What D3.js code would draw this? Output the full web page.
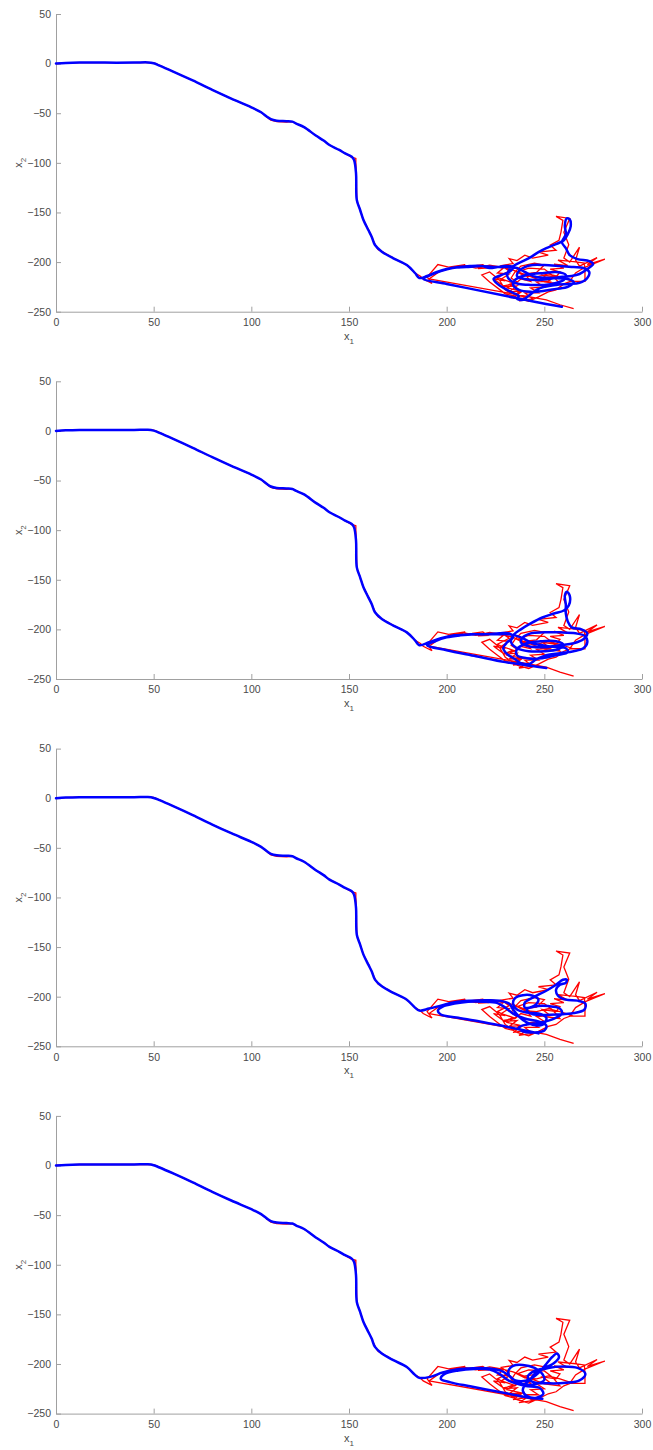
<!DOCTYPE html>
<html><head><meta charset="utf-8">
<script src="https://cdn.jsdelivr.net/npm/d3@7"></script>
<style>body{margin:0;background:#fff}svg{display:block}text{font-family:"Liberation Sans",Arial,sans-serif}</style>
</head><body>
<script>
// ---- data ----
const xTicks = [0, 50, 100, 150, 200, 250, 300];
const yTicks = [-250, -200, -150, -100, -50, 0, 50];

const redApproach = [[0,0],[5,0.6],[12,1],[25,1],[40,1],[47,1.2],[50,0.8],[52,-0.8],[60,-8],[70,-17],[80,-26.5],[90,-35.5],[100,-44],[105,-49],[108,-54],[110,-57],[113,-58.5],[118,-59],[121,-58.5],[123,-60.5],[127,-64],[133,-72.5],[137,-77.5],[140,-82],[145,-87],[148,-90.5],[151,-94],[153.5,-95.5],[153.5,-100],[153.7,-111],[154,-138],[155.7,-147.5],[157.4,-157.5],[160,-167.5],[161.6,-174.5],[163.5,-183],[165,-187.5],[167,-189.5],[172.7,-196],[179.6,-203],[183.8,-211],[186.4,-214]];

const redCluster = [[188,-217],[192.5,-221.5],[190,-215],[195.5,-202.5],[201,-205],[209.5,-202.5],[206,-205.5],[213,-204],[218.5,-202.5],[221,-206],[216,-206.5],[225,-204.5],[229,-206],[226,-211],[232,-212],[228,-217],[234,-221],[229,-225],[236,-224],[232,-230],[239,-229],[234,-236],[241,-234],[237,-239],[244,-237],[240,-231],[247,-231],[243,-226],[250,-225],[246,-220],[253,-219],[249,-213],[256,-215],[258,-210],[253,-207],[260,-206],[255,-202],[262,-203.5],[257,-198],[265,-199.5],[270.5,-201],[270.8,-210],[270.8,-219.5],[263,-219.5],[266,-211],[271,-205],[281,-197],[272,-202.5],[277,-195.5],[268,-204],[266,-198],[268,-185],[263,-200],[260,-196],[262.5,-182.5],[260,-170],[263,-156],[256,-154],[259.5,-158],[258.5,-170],[257.5,-178],[253,-183],[256,-188],[247,-190],[252,-193],[244,-196],[240,-193],[236,-198.5],[232,-196.5],[234,-201.5],[228,-203.5],[232,-209],[226,-215],[230,-219],[224,-217],[229,-224],[235,-222],[238,-217],[243,-219.5],[240,-212],[246,-210.5],[250,-203],[245,-201],[238,-204],[235,-210],[233,-216],[236,-220],[231,-226],[238,-229],[234,-234],[230,-232],[226,-226],[222,-220],[218,-213],[222,-210],[227,-218],[230,-228],[236,-236],[242,-239.5],[247,-235],[252,-230],[256,-228],[260,-222],[264,-219],[258,-215],[252,-212],[246,-215],[240,-214],[236,-210],[242,-206],[250,-207],[254,-213],[258,-222],[250,-220],[242,-214],[234,-208],[228,-205],[222,-203],[215,-206],[208,-203],[202,-206],[196,-210],[191,-217],[251,-238],[258,-243],[265,-247]];

const blueApproach = [[0,0],[5,0.6],[12,1],[25,1],[40,1],[47,1.2],[50,0.3],[53,-2],[60,-8],[70,-17],[80,-26.5],[90,-35.5],[100,-44],[105,-49],[108,-53.5],[110,-56],[113,-57.5],[118,-58],[121,-58.5],[123,-60.5],[127,-64],[133,-72.5],[137,-77.5],[140,-82],[145,-87],[148,-90.4],[151.4,-93.8],[152.6,-97.2],[153.6,-110.6],[154,-137.5],[155.7,-147.5],[157.4,-157.6],[159.9,-167.7],[161.6,-174.4],[163.3,-182.8],[166.8,-189.5],[172.7,-196.2],[179.6,-203],[183.8,-211]];

const blueCluster1 = [[186,-216],[190,-214],[195,-210],[200,-207],[206,-205],[212,-204],[218,-204],[222,-206],[226,-205],[230,-204],[234,-205],[232,-210],[228,-213],[224,-217],[226,-222],[230,-227],[234,-231],[237,-234],[236,-237],[239,-238],[242,-234],[246,-228],[250,-225],[256,-223],[262,-222],[268,-221],[272,-216],[273,-210],[270,-206],[265,-205],[258,-204],[250,-203],[244,-203],[240,-205],[237,-209],[236,-214],[240,-217],[246,-218],[252,-217],[258,-215],[264,-214],[268,-212],[272,-207],[275,-202],[273,-199],[267,-197],[263,-193],[261,-186],[259,-180],[261,-172],[260.5,-163],[261.5,-156],[263,-157],[263.5,-164],[262,-172],[260,-178],[256,-182],[251,-186],[247,-190],[243,-195],[239,-199],[235,-203],[232,-208],[231,-214],[233,-219],[237,-222],[243,-223],[250,-223],[256,-221],[260,-218],[261,-213],[256,-210],[250,-211],[244,-212],[239,-214],[235,-218],[234,-223],[237,-228],[243,-230],[250,-229],[256,-227],[262,-225],[265,-220],[262,-217],[254,-216],[246,-215],[240,-210],[236,-206],[230,-205],[224,-205],[218,-204],[210,-205],[203,-206],[197,-209],[192,-213],[188,-217],[200,-222],[215,-228],[230,-234],[245,-240],[259,-245]];

const blueCluster2 = [[186,-216],[191,-213],[197,-209],[204,-206],[212,-205],[220,-205],[227,-204],[232,-204],[234,-208],[231,-213],[229,-219],[231,-225],[235,-230],[238,-234],[242,-235],[246,-230],[251,-226],[258,-224],[265,-222],[270,-219],[272,-213],[271,-207],[266,-204],[258,-203],[250,-203],[243,-204],[239,-208],[238,-213],[242,-217],[250,-218],[258,-216],[265,-214],[270,-210],[272,-204],[269,-200],[264,-198],[262,-192],[261,-184],[261,-175],[260.5,-166],[261.5,-162],[263,-166],[262.5,-176],[260,-181],[255,-184],[249,-188],[243,-194],[238,-200],[234,-206],[233,-213],[236,-219],[242,-222],[250,-222],[257,-220],[260,-216],[256,-212],[248,-212],[241,-214],[236,-220],[236,-226],[241,-229],[249,-229],[256,-226],[262,-223],[261,-219],[252,-217],[244,-214],[238,-208],[232,-205],[224,-205],[215,-205],[207,-206],[200,-208],[194,-212],[190,-216],[200,-221],[215,-227],[230,-233],[244,-237],[251,-239]];

const blueCluster3 = [[186,-214],[191,-212],[197,-209],[204,-205.5],[212,-204],[220,-203.5],[227,-204],[232,-207],[234,-213],[237,-220],[241,-226],[246,-229],[250,-227],[251,-221],[247,-217],[241,-216],[236,-213],[234,-207],[235,-201.5],[239,-198.5],[244,-199],[247,-203],[245,-209],[240,-211],[240,-206],[245,-200],[251,-194],[256,-188],[259.5,-183],[261.5,-183],[261,-186],[258,-188],[256,-193],[257,-199],[261,-203],[267,-204],[271,-207],[270.5,-213],[265,-216.5],[257,-218],[249,-218.5],[243,-217],[241,-213],[245,-210],[252,-209.5],[258,-212],[259,-217],[255,-222],[248,-226],[241,-228],[237,-231],[239,-235],[245,-236],[250,-234],[251,-229],[247,-225],[240,-222],[234,-217],[230,-211],[226,-206.5],[219,-205],[211,-205],[204,-207],[198,-210],[195.5,-214],[197,-218],[205,-221],[217,-225],[230,-230],[240,-234],[247,-237]];

const blueCluster4 = [[186,-214],[191.5,-213],[198,-208.5],[205,-205.5],[213.5,-204.3],[222,-204.5],[228,-207],[232,-212],[236,-218],[241,-221],[246,-220],[250,-216],[249,-210],[245,-204],[239,-201],[234,-202],[231.5,-208],[233,-214],[238,-217.5],[243,-215],[247,-209],[251,-200],[254,-193],[256.5,-189.5],[257.5,-193],[255,-199],[250,-204],[244,-208],[241.5,-213],[244,-218],[252,-219.5],[261,-219],[268,-216.5],[271,-210],[267,-204],[260,-202.5],[252,-204],[246,-208],[243,-215],[240,-221],[239,-227],[241,-232],[246,-234],[249.5,-230],[247.5,-224],[240,-222],[232,-217],[227,-210],[222,-205.5],[214,-205],[206,-206.5],[199,-210],[197,-215],[202,-218.5],[212,-222.5],[225,-227.5],[237,-232],[244,-234.5],[249,-235]];

const blueClusters = [blueCluster1, blueCluster2, blueCluster3, blueCluster4];

// ---- layout ----
const W = 653, H = 1450;
const left = 56, right = 642, panelTop0 = 14, panelStep = 367.3, panelH = 297.7;
const axisColor = "#a0a0a0", textColor = "#4a4a4a";

const svg = d3.select("body").append("svg").attr("width", W).attr("height", H)
  .style("background", "#fff");

const x = d3.scaleLinear().domain([0, 300]).range([left, right]);
const y = d3.scaleLinear().domain([-250, 50]).range([panelH, 0]);

const redLine = d3.line().x(d => x(d[0])).y(d => y(d[1]));
const blueLine = d3.line().x(d => x(d[0])).y(d => y(d[1])).curve(d3.curveCatmullRom.alpha(0.5));

const redData = redApproach.concat(redCluster);

blueClusters.forEach((bc, i) => {
  const g = svg.append("g").attr("transform", `translate(0,${panelTop0 + i * panelStep})`);

  const xa = g.append("g").attr("transform", `translate(0,${panelH})`)
    .call(d3.axisBottom(x).tickValues(xTicks).tickSizeInner(-5).tickSizeOuter(0).tickPadding(7));
  const ya = g.append("g").attr("transform", `translate(${left},0)`)
    .call(d3.axisLeft(y).tickValues(yTicks).tickSizeInner(-5).tickSizeOuter(0).tickPadding(5));
  [xa, ya].forEach(a => {
    a.select(".domain").attr("stroke", axisColor).attr("stroke-width", 1);
    a.selectAll(".tick line").attr("stroke", axisColor);
    a.selectAll(".tick text").attr("fill", textColor).style("font-size", "10.5px")
      .style("font-family", '"Liberation Sans", Arial, sans-serif');
  });

  g.append("path").datum(redData).attr("d", redLine)
    .attr("fill", "none").attr("stroke", "#ff0000").attr("stroke-width", 1.3)
    .attr("stroke-linejoin", "miter");
  g.append("path").datum(blueApproach.concat(bc)).attr("d", blueLine)
    .attr("fill", "none").attr("stroke", "#0000ff").attr("stroke-width", 2.5)
    .attr("stroke-linejoin", "round").attr("stroke-linecap", "round");

  // x label
  const xl = g.append("text").attr("x", (left + right) / 2).attr("y", panelH + 28)
    .attr("text-anchor", "middle").attr("fill", textColor).style("font-size", "11px");
  xl.append("tspan").text("x");
  xl.append("tspan").attr("dy", 4).style("font-size", "8px").text("1");

  // y label
  const yl = g.append("text").attr("transform", `translate(22,${panelH / 2}) rotate(-90)`)
    .attr("text-anchor", "middle").attr("fill", textColor).style("font-size", "11px");
  yl.append("tspan").text("x");
  yl.append("tspan").attr("dy", 4).style("font-size", "8px").text("2");
});
</script>
</body></html>
